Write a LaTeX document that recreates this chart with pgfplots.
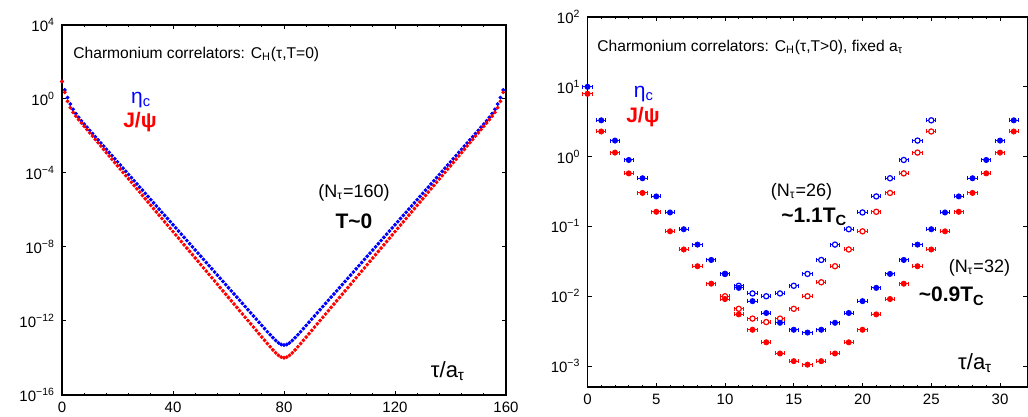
\documentclass[border=0pt]{standalone}
\usepackage{fontspec}
\setmainfont{Liberation Sans}
\usepackage{pgfplots}
\usepackage{pgfplotstable}
\pgfplotsset{compat=1.18}

\definecolor{cblue}{RGB}{0,0,255}
\definecolor{cred}{RGB}{255,0,0}

% log10 of C_H(tau), N_tau=160 : b = eta_c, r = J/psi
\pgfplotstableread{
t b r
0 0.949 0.949
1 0.489 0.360
2 0.076 -0.123
3 -0.273 -0.472
4 -0.557 -0.723
5 -0.790 -0.927
6 -0.992 -1.114
7 -1.177 -1.295
8 -1.354 -1.473
9 -1.527 -1.652
10 -1.699 -1.830
11 -1.869 -2.008
12 -2.04 -2.186
13 -2.21 -2.364
14 -2.38 -2.542
15 -2.55 -2.720
16 -2.72 -2.898
17 -2.89 -3.076
18 -3.06 -3.254
19 -3.23 -3.432
20 -3.40 -3.610
21 -3.57 -3.788
22 -3.74 -3.966
23 -3.91 -4.144
24 -4.08 -4.322
25 -4.25 -4.500
26 -4.42 -4.678
27 -4.59 -4.856
28 -4.76 -5.034
29 -4.93 -5.212
30 -5.10 -5.390
31 -5.27 -5.568
32 -5.44 -5.746
33 -5.61 -5.924
34 -5.78 -6.102
35 -5.95 -6.280
36 -6.12 -6.458
37 -6.29 -6.636
38 -6.46 -6.814
39 -6.63 -6.992
40 -6.80 -7.170
41 -6.97 -7.348
42 -7.14 -7.526
43 -7.31 -7.704
44 -7.48 -7.882
45 -7.65 -8.060
46 -7.82 -8.238
47 -7.99 -8.416
48 -8.16 -8.594
49 -8.33 -8.772
50 -8.50 -8.950
51 -8.67 -9.128
52 -8.84 -9.306
53 -9.01 -9.484
54 -9.18 -9.662
55 -9.35 -9.840
56 -9.52 -10.018
57 -9.69 -10.196
58 -9.86 -10.374
59 -10.03 -10.552
60 -10.20 -10.730
61 -10.37 -10.908
62 -10.54 -11.086
63 -10.71 -11.264
64 -10.88 -11.442
65 -11.05 -11.620
66 -11.22 -11.798
67 -11.39 -11.976
68 -11.56 -12.154
69 -11.73 -12.332
70 -11.90 -12.510
71 -12.07 -12.688
72 -12.24 -12.866
73 -12.41 -13.043
74 -12.58 -13.219
75 -12.74 -13.393
76 -12.90 -13.562
77 -13.05 -13.720
78 -13.18 -13.857
79 -13.27 -13.953
80 -13.30 -13.989
81 -13.27 -13.953
82 -13.18 -13.857
83 -13.05 -13.720
84 -12.90 -13.562
85 -12.74 -13.393
86 -12.58 -13.219
87 -12.41 -13.043
88 -12.24 -12.866
89 -12.07 -12.688
90 -11.90 -12.510
91 -11.73 -12.332
92 -11.56 -12.154
93 -11.39 -11.976
94 -11.22 -11.798
95 -11.05 -11.620
96 -10.88 -11.442
97 -10.71 -11.264
98 -10.54 -11.086
99 -10.37 -10.908
100 -10.20 -10.730
101 -10.03 -10.552
102 -9.86 -10.374
103 -9.69 -10.196
104 -9.52 -10.018
105 -9.35 -9.840
106 -9.18 -9.662
107 -9.01 -9.484
108 -8.84 -9.306
109 -8.67 -9.128
110 -8.50 -8.950
111 -8.33 -8.772
112 -8.16 -8.594
113 -7.99 -8.416
114 -7.82 -8.238
115 -7.65 -8.060
116 -7.48 -7.882
117 -7.31 -7.704
118 -7.14 -7.526
119 -6.97 -7.348
120 -6.80 -7.170
121 -6.63 -6.992
122 -6.46 -6.814
123 -6.29 -6.636
124 -6.12 -6.458
125 -5.95 -6.280
126 -5.78 -6.102
127 -5.61 -5.924
128 -5.44 -5.746
129 -5.27 -5.568
130 -5.10 -5.390
131 -4.93 -5.212
132 -4.76 -5.034
133 -4.59 -4.856
134 -4.42 -4.678
135 -4.25 -4.500
136 -4.08 -4.322
137 -3.91 -4.144
138 -3.74 -3.966
139 -3.57 -3.788
140 -3.40 -3.610
141 -3.23 -3.432
142 -3.06 -3.254
143 -2.89 -3.076
144 -2.72 -2.898
145 -2.55 -2.720
146 -2.38 -2.542
147 -2.21 -2.364
148 -2.04 -2.186
149 -1.869 -2.008
150 -1.699 -1.830
151 -1.527 -1.652
152 -1.354 -1.473
153 -1.177 -1.295
154 -0.992 -1.114
155 -0.790 -0.927
156 -0.557 -0.723
157 -0.273 -0.472
158 0.076 -0.123
159 0.489 0.360
}\zerotemp

% log10 of C_H(tau), N_tau=32 (~0.9 Tc)
\pgfplotstableread{
t b r
0 1.00 0.90
1 0.52 0.36
2 0.23 0.058
3 -0.048 -0.24
4 -0.31 -0.52
5 -0.57 -0.79
6 -0.80 -1.07
7 -1.04 -1.33
8 -1.26 -1.57
9 -1.48 -1.82
10 -1.68 -2.04
11 -1.88 -2.26
12 -2.07 -2.48
13 -2.24 -2.66
14 -2.38 -2.82
15 -2.48 -2.93
16 -2.52 -2.98
17 -2.48 -2.93
18 -2.38 -2.82
19 -2.24 -2.66
20 -2.07 -2.48
21 -1.88 -2.26
22 -1.68 -2.04
23 -1.48 -1.82
24 -1.26 -1.57
25 -1.04 -1.33
26 -0.80 -1.07
27 -0.57 -0.79
28 -0.31 -0.52
29 -0.048 -0.24
30 0.23 0.058
31 0.52 0.36
}\ntlow

% log10 of C_H(tau), N_tau=26 (~1.1 Tc)
\pgfplotstableread{
t b r
10 -1.68 -2.00
11 -1.85 -2.18
12 -1.96 -2.32
13 -2.00 -2.37
14 -1.96 -2.32
15 -1.85 -2.18
16 -1.68 -2.00
17 -1.48 -1.80
18 -1.26 -1.57
19 -1.04 -1.33
20 -0.80 -1.07
21 -0.57 -0.79
22 -0.31 -0.52
23 -0.048 -0.24
24 0.23 0.058
25 0.52 0.36
}\nthigh

\pgfplotsset{
  panel/.style={
    scale only axis, clip=false,
    axis line style={line width=0.6pt},
    tick style={black, line width=0.5pt},
    major tick length=2.2pt, minor tick length=1.2pt,
    tick label style={font=\fontsize{7.5}{9}\selectfont},
    /pgf/number format/assume math mode=true,
  },
}
\tikzset{lbl/.style={inner sep=0pt}}

\begin{document}
\begin{tikzpicture}
\path[use as bounding box] (0,0) rectangle (514pt,208.5pt);

% ---------- left: T = 0 ----------
\begin{axis}[panel,
  at={(31pt,11pt)}, anchor=south west,
  width=222pt, height=185pt,
  xmin=0, xmax=160, ymin=-16, ymax=4,
  xtick={0,40,80,120,160}, minor x tick num=4,
  ytick={-16,-12,-8,-4,0,4},
  yticklabels={10\textsuperscript{−16},10\textsuperscript{−12},10\textsuperscript{−8},10\textsuperscript{−4},10\textsuperscript{0},10\textsuperscript{4}},
]
\addplot[only marks, mark=*, mark size=0.75pt, cblue] table[x=t, y=b] {\zerotemp};
\addplot[only marks, mark=*, mark size=0.75pt, cred] table[x=t, y=r] {\zerotemp};
\node[lbl, anchor=west, font=\fontsize{7.8}{9}\selectfont] at (axis cs:3.96,2.43) {Charmonium correlators: C\textsubscript{H}(τ,T=0)};
\node[lbl, cblue, font=\fontsize{10.5}{12}\selectfont] at (axis cs:28.5,-0.05) {η\textsubscript{c}};
\node[lbl, cred, font=\bfseries\fontsize{10.5}{12}\selectfont] at (axis cs:28.1,-1.24) {J/ψ};
\node[lbl, font=\fontsize{9}{11}\selectfont] at (axis cs:105.2,-5.08) {(N\textsubscript{τ}=160)};
\node[lbl, font=\bfseries\fontsize{10.5}{12}\selectfont] at (axis cs:105.2,-6.6) {T\textasciitilde 0};
\node[lbl, font=\fontsize{11}{13}\selectfont] at (axis cs:139.1,-14.7) {τ/a\textsubscript{τ}};
\end{axis}

% ---------- right: T > 0 ----------
\begin{axis}[panel,
  at={(293.75pt,15pt)}, anchor=south west,
  width=220pt, height=185pt,
  xmin=0, xmax=32, ymin=-3.3, ymax=2,
  xtick={0,5,...,30}, minor x tick num=4,
  ytick={-3,-2,-1,0,1,2},
  yticklabels={10\textsuperscript{−3},10\textsuperscript{−2},10\textsuperscript{−1},10\textsuperscript{0},10\textsuperscript{1},10\textsuperscript{2}},
  error bars/x dir=both, error bars/x fixed=0.33,
  error bars/error bar style={line width=0.5pt},
  error bars/error mark options={rotate=90, mark size=1pt, line width=0.5pt},
]
\addplot[only marks, mark=*, mark size=1.3pt, cblue, mark options={fill=white, line width=0.6pt}] table[x=t, y=b] {\nthigh};
\addplot[only marks, mark=*, mark size=1.3pt, cred, mark options={fill=white, line width=0.6pt}] table[x=t, y=r] {\nthigh};
\addplot[only marks, mark=*, mark size=1.3pt, cblue] table[x=t, y=b] {\ntlow};
\addplot[only marks, mark=*, mark size=1.3pt, cred] table[x=t, y=r] {\ntlow};
\node[lbl, anchor=west, font=\fontsize{7.8}{9}\selectfont] at (axis cs:0.69,1.57) {Charmonium correlators: C\textsubscript{H}(τ,T>0), fixed a\textsubscript{τ}};
\node[lbl, cblue, font=\fontsize{10.5}{12}\selectfont] at (axis cs:4.1,0.9) {η\textsubscript{c}};
\node[lbl, cred, font=\bfseries\fontsize{10.5}{12}\selectfont] at (axis cs:4.03,0.56) {J/ψ};
\node[lbl, font=\fontsize{9}{11}\selectfont] at (axis cs:15.57,-0.5) {(N\textsubscript{τ}=26)};
\node[lbl, font=\bfseries\fontsize{10.5}{12}\selectfont] at (axis cs:16.5,-0.86) {\textasciitilde 1.1T\textsubscript{C}};
\node[lbl, font=\fontsize{9}{11}\selectfont] at (axis cs:28.5,-1.59) {(N\textsubscript{τ}=32)};
\node[lbl, font=\bfseries\fontsize{10.5}{12}\selectfont] at (axis cs:26.5,-2.0) {\textasciitilde 0.9T\textsubscript{C}};
\node[lbl, font=\fontsize{11}{13}\selectfont] at (axis cs:28.2,-2.96) {τ/a\textsubscript{τ}};
\end{axis}
\end{tikzpicture}
\end{document}
